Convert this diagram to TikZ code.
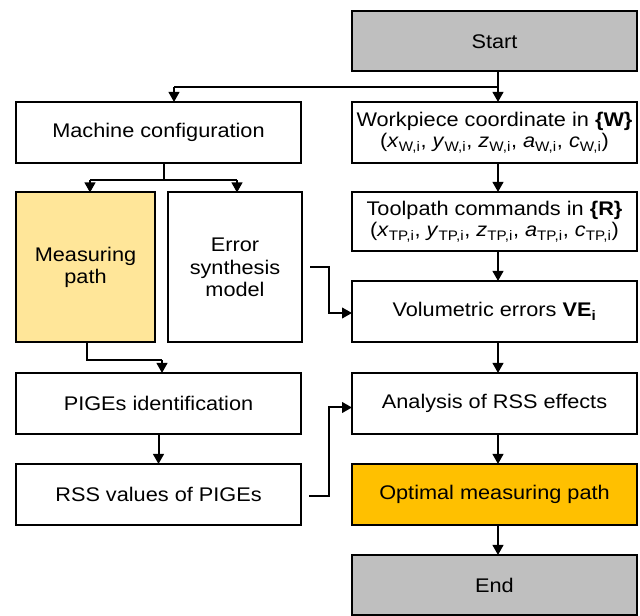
\documentclass[tikz,border=0pt]{standalone}
\usepackage{fontspec}
\setmainfont{Liberation Sans}[FakeStretch=1.1]
\usetikzlibrary{arrows.meta,calc}
\definecolor{startgray}{HTML}{BFBFBF}
\definecolor{paleyellow}{HTML}{FFE699}
\definecolor{amber}{HTML}{FFC000}
\newcommand{\pxu}{0.75pt}
\newcommand{\sub}[2]{\textit{#1}\textsubscript{#2}}
\tikzset{
  box/.style={draw=black, line width=1.5pt, fill=white, rectangle,
    inner sep=0pt, outer sep=0pt, align=center,
    font=\fontsize{14.8pt}{17pt}\selectfont},
  arr/.style={line width=1.5pt, -{Triangle[length=7.5pt,width=8pt]}},
  ln/.style={line width=1.5pt}
}
\begin{document}
\begin{tikzpicture}[x=0.75pt,y=-0.75pt]
\useasboundingbox (0,0) rectangle (640,616);

% right column
\node[box, fill=startgray, minimum width=285*\pxu, minimum height=60*\pxu] (start) at (494.5,41.5) {Start};
\node[box, minimum width=285*\pxu, minimum height=61*\pxu] (wp) at (494.5,132.5)
  {Workpiece coordinate in \textbf{\{W\}}\\[-1pt]
   (\sub{x}{W,i}, \sub{y}{W,i}, \sub{z}{W,i}, \sub{a}{W,i}, \sub{c}{W,i})};
\node[box, minimum width=285*\pxu, minimum height=59*\pxu] (tp) at (494.5,221.5)
  {Toolpath commands in \textbf{\{R\}}\\[-1pt]
   (\sub{x}{TP,i}, \sub{y}{TP,i}, \sub{z}{TP,i}, \sub{a}{TP,i}, \sub{c}{TP,i})};
\node[box, minimum width=285*\pxu, minimum height=61*\pxu] (vol) at (494.5,311.5)
  {Volumetric errors \textbf{VE\textsubscript{i}}};
\node[box, minimum width=285*\pxu, minimum height=61*\pxu] (ana) at (494.5,403.5)
  {Analysis of RSS effects};
\node[box, fill=amber, minimum width=285*\pxu, minimum height=61*\pxu] (opt) at (494.5,494.5)
  {Optimal measuring path};
\node[box, fill=startgray, minimum width=285*\pxu, minimum height=60*\pxu] (end) at (494.5,585)
  {End};

% left column
\node[box, minimum width=285*\pxu, minimum height=61*\pxu] (mach) at (158.5,132.5)
  {Machine configuration};
\node[box, fill=paleyellow, minimum width=139*\pxu, minimum height=150*\pxu] (meas) at (85.5,267.5)
  {Measuring\\path};
\node[box, minimum width=134*\pxu, minimum height=150*\pxu] (err) at (235,267.5)
  {Error\\synthesis\\model};
\node[box, minimum width=285*\pxu, minimum height=61*\pxu] (pige) at (158.5,403.5)
  {PIGEs identification};
\node[box, minimum width=285*\pxu, minimum height=61*\pxu] (rss) at (158.5,494.5)
  {RSS values of PIGEs};

% vertical line of the right column and branch points
\coordinate (rc) at (498,0);
\coordinate (sb) at (498,87);
\coordinate (sl) at (174,87);
\coordinate (mb) at (164,180);
\coordinate (ml) at (90,180);
\coordinate (mr) at (237,180);
\coordinate (pb) at (87,360);
\coordinate (pc) at (162,360);

% connectors
\draw[arr] (start.south -| rc) -- (wp.north -| rc);
\draw[ln] (sb) -- (sl);
\draw[arr] (sl) -- (sl |- mach.north);
\draw[ln] (mach.south -| mb) -- (mb);
\draw[ln] (ml) -- (mr);
\draw[arr] (ml) -- (ml |- meas.north);
\draw[arr] (mr) -- (mr |- err.north);
\draw[arr] (wp.south -| rc) -- (tp.north -| rc);
\draw[arr] (tp.south -| rc) -- (vol.north -| rc);
\draw[arr] (vol.south -| rc) -- (ana.north -| rc);
\draw[arr] (ana.south -| rc) -- (opt.north -| rc);
\draw[arr] (opt.south -| rc) -- (end.north -| rc);
\draw[arr] ($(err.east)+(8,0)$) -- ++(19,0) |- ($(vol.west)+(0,1.5)$);
\draw[ln] (meas.south -| pb) -- (pb) -- (pc);
\draw[arr] (pc) -- (pc |- pige.north);
\draw[arr] (pige) -- (rss);
\draw[arr] ($(rss.east)+(8,1.5)$) -- ++(20,0) |- ($(ana.west)+(0,4)$);
\end{tikzpicture}
\end{document}
